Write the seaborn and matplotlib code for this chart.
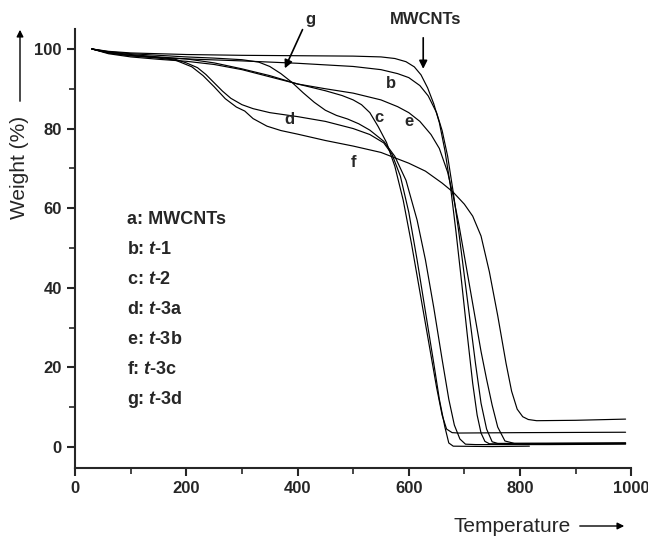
import matplotlib
matplotlib.use("Agg")
import matplotlib.pyplot as plt
import numpy as np
import pandas as pd
import seaborn as sns
from matplotlib.ticker import MultipleLocator

# TGA curves (temperature, weight %)
a_T = [30, 60, 100, 150, 200, 300, 400, 500, 550, 575, 595, 610, 622, 634, 645, 655, 665, 675, 685, 695, 705, 715, 723, 730, 737, 745, 800, 900, 990]
a_W = [100, 99.4, 99.0, 98.8, 98.6, 98.4, 98.3, 98.2, 98.0, 97.6, 96.8, 95.5, 93.5, 90.2, 86.2, 81.5, 74.5, 65.5, 54, 41.5, 28.5, 16, 8, 3.5, 1.4, 0.8, 0.8, 0.8, 0.9]

b_T = [30, 60, 100, 150, 200, 300, 400, 500, 550, 580, 600, 620, 635, 650, 660, 670, 680, 690, 700, 710, 720, 730, 740, 750, 760, 850, 990]
b_W = [100, 99.0, 98.3, 97.8, 97.5, 97.0, 96.4, 95.6, 94.8, 93.8, 92.8, 90.8, 88.2, 84, 79.5, 73, 64, 54, 43, 32, 21, 11, 4.5, 1.3, 0.9, 0.9, 1.0]

c_T = [30, 60, 100, 150, 200, 250, 300, 350, 400, 450, 480, 500, 515, 530, 545, 560, 575, 590, 605, 620, 635, 650, 660, 668, 678, 690, 800, 990]
c_W = [100, 99.2, 98.6, 98.0, 97.5, 96.5, 95.0, 93.3, 91.2, 89.5, 88.3, 87.2, 86.0, 84.0, 80.5, 76.5, 70.5, 62, 51, 39, 27, 15, 8, 4.5, 3.6, 3.5, 3.6, 3.7]

d_T = [30, 60, 100, 150, 180, 200, 220, 235, 250, 265, 280, 300, 320, 350, 400, 450, 500, 530, 555, 570, 585, 600, 615, 630, 645, 655, 665, 672, 680, 750, 817]
d_W = [100, 99.0, 98.4, 97.9, 97.4, 96.5, 95.3, 93.6, 91.5, 89.4, 87.6, 86.0, 85.0, 84.0, 83.0, 81.8, 80.0, 78.5, 76.4, 73.5, 68, 59, 47, 34, 21, 12, 5, 1, 0.2, 0.1, 0.2]

e_T = [30, 60, 100, 150, 200, 250, 300, 350, 400, 450, 500, 550, 580, 600, 620, 640, 655, 670, 680, 690, 700, 710, 720, 730, 740, 750, 760, 773, 790, 990]
e_W = [100, 98.8, 98.0, 97.4, 96.9, 96.1, 94.8, 93.0, 91.2, 90.0, 88.9, 87.2, 85.5, 84.0, 81.8, 78.5, 75, 69, 63, 56, 48, 40, 32, 24, 17, 10.5, 5, 1.5, 0.9, 1.0]

f_T = [30, 60, 100, 150, 180, 210, 230, 250, 270, 290, 305, 320, 345, 370, 400, 450, 500, 550, 600, 630, 660, 680, 700, 715, 730, 745, 760, 775, 785, 795, 805, 815, 830, 900, 990]
f_W = [100, 99.0, 98.3, 97.7, 97.2, 95.5, 93.3, 90.5, 87.5, 85.4, 84.4, 82.5, 80.6, 79.5, 78.6, 77.0, 75.6, 74.0, 71.3, 69.3, 66.3, 64.0, 61.0, 58, 53, 44, 33, 21, 14, 9.5, 7.6, 6.9, 6.6, 6.7, 7.0]

g_T = [30, 60, 100, 150, 200, 250, 300, 330, 350, 370, 390, 410, 430, 450, 470, 490, 510, 530, 555, 575, 595, 615, 630, 645, 660, 672, 682, 692, 702, 720, 850, 990]
g_W = [100, 99.3, 98.8, 98.4, 98.0, 97.7, 97.3, 96.7, 95.6, 93.8, 91.6, 89.0, 86.6, 84.6, 83.3, 82.4, 81.2, 79.6, 76.8, 73.0, 67, 57, 47, 35, 22, 12, 5.5, 2, 0.7, 0.6, 0.6, 0.7]

legend_lines = ["a: MWCNTs", "b: $\\mathbfit{t}$-1", "c: $\\mathbfit{t}$-2", "d: $\\mathbfit{t}$-3a",
                "e: $\\mathbfit{t}$-3b", "f: $\\mathbfit{t}$-3c", "g: $\\mathbfit{t}$-3d"]

curves = {"a": (a_T, a_W), "b": (b_T, b_W), "c": (c_T, c_W), "d": (d_T, d_W),
          "e": (e_T, e_W), "f": (f_T, f_W), "g": (g_T, g_W)}

sns.set_style("ticks")
plt.rcParams["font.family"] = ["Liberation Sans", "DejaVu Sans"]
plt.rcParams["mathtext.fontset"] = "custom"
plt.rcParams["mathtext.bfit"] = "Liberation Sans:italic:bold"
plt.rcParams["mathtext.bf"] = "Liberation Sans:bold"
plt.rcParams["mathtext.rm"] = "Liberation Sans:bold"

fig = plt.figure(figsize=(6.48, 5.38), dpi=100)
ax = fig.add_axes([0.116, 0.130, 0.858, 0.816])

for name, (T, W) in curves.items():
    sns.lineplot(x=T, y=W, ax=ax, color="black", lw=0.85, sort=False, estimator=None)

ax.set_xlim(0, 1000)
ax.set_ylim(-5.3, 105)
ax.xaxis.set_major_locator(MultipleLocator(200))
ax.xaxis.set_minor_locator(MultipleLocator(100))
ax.yaxis.set_major_locator(MultipleLocator(20))
ax.yaxis.set_minor_locator(MultipleLocator(10))
ax.tick_params(which="major", direction="out", length=6, width=1.5, labelsize=12)
ax.tick_params(which="minor", direction="out", length=4, width=1.2)
for lab in ax.get_xticklabels() + ax.get_yticklabels():
    lab.set_fontweight("bold")
sns.despine(ax=ax)
for s in ["left", "bottom"]:
    ax.spines[s].set_linewidth(1.5)
ax.set_xlabel("")
ax.set_ylabel("")

# curve tags
bold = dict(fontsize=12, fontweight="bold", ha="center", va="center")
ax.text(568, 91.4, "b", **bold)
ax.text(546, 82.7, "c", **bold)
ax.text(386, 82.4, "d", **bold)
ax.text(600, 81.8, "e", **bold)
ax.text(500, 71.4, "f", **bold)
ax.text(630, 107.5, "MWCNTs", clip_on=False, **bold)
ax.text(423, 107.5, "g", clip_on=False, **bold)
ax.annotate("", xy=(626, 94.3), xytext=(626, 103.5), annotation_clip=False,
            arrowprops=dict(arrowstyle="-|>", color="black", lw=1.2, mutation_scale=12))
ax.annotate("", xy=(375, 94.5), xytext=(411, 105.5), annotation_clip=False,
            arrowprops=dict(arrowstyle="-|>", color="black", lw=1.2, mutation_scale=12))

for i, txt in enumerate(legend_lines):
    ax.text(93, 57.2 - 7.55 * i, txt, fontsize=13, fontweight="bold", ha="left", va="center")

# axis titles with arrows
H = 538
fig.text(20 / 648, 1 - 167 / H, "Weight (%)", rotation=90, fontsize=15, ha="center", va="center")
fig.text(512 / 648, 1 - 527 / H, "Temperature", fontsize=15, ha="center", va="center")
fig.patches.append(matplotlib.patches.FancyArrowPatch((20, H - 104), (20, H - 27), transform=None,
                   arrowstyle="-|>", mutation_scale=10, lw=1.0, color="black"))
fig.patches.append(matplotlib.patches.FancyArrowPatch((577, H - 526), (627, H - 526), transform=None,
                   arrowstyle="-|>", mutation_scale=10, lw=1.0, color="black"))

fig.savefig("out.png", dpi=100)
